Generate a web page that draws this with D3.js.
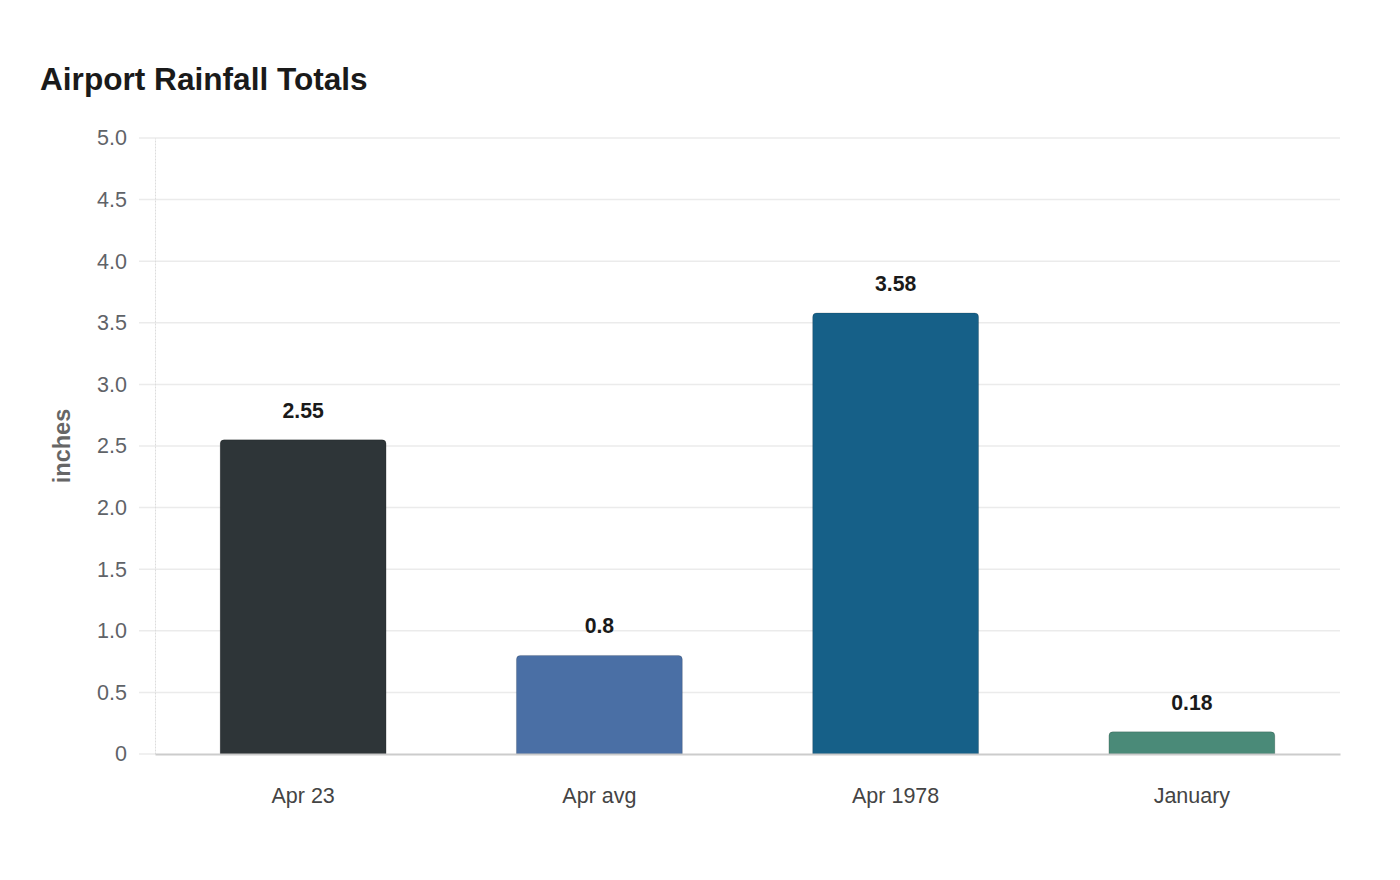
<!DOCTYPE html>
<html>
<head>
<meta charset="utf-8">
<script src="https://cdn.jsdelivr.net/npm/d3@7"></script>
<style>
  body { margin: 0; background: #fff; }
  svg { display: block; font-family: "Liberation Sans", Arial, sans-serif; }
</style>
</head>
<body>
<svg width="1400" height="880"></svg>
<script>
const categories = ["Apr 23", "Apr avg", "Apr 1978", "January"];
const rainfall = [2.55, 0.8, 3.58, 0.18];
const barColors = ["#2e3538", "#4a6fa5", "#166088", "#4a8a78"];
const yTicks = [0, 0.5, 1, 1.5, 2, 2.5, 3, 3.5, 4, 4.5, 5];

function main(){
  const svg = d3.select("svg");
  const left = 155, right = 1340, top = 138, bottom = 754;

  // scales
  const xScale = d3.scaleBand().domain(categories).range([left, right]).paddingInner(0.44).paddingOuter(0.22);
  const yScale = d3.scaleLinear().domain([0, 5]).range([bottom, top]);

  // title
  svg.append("text").attr("x", 40).attr("y", 90)
    .attr("font-size", 31.6).attr("font-weight", "bold").attr("fill", "#1a1a1a")
    .text("Airport Rainfall Totals");

  // gridlines
  svg.append("g").selectAll("line").data(yTicks.filter(d => d > 0)).enter().append("line")
    .attr("x1", left - 16).attr("x2", right)
    .attr("y1", d => yScale(d)).attr("y2", d => yScale(d))
    .attr("stroke", "#ebebeb").attr("stroke-width", 1.5);

  // y axis
  const yAxis = d3.axisLeft(yScale).tickValues(yTicks)
    .tickFormat(d => d === 0 ? "0" : d3.format(".1f")(d))
    .tickSize(0).tickPadding(28);
  const yG = svg.append("g").attr("transform", `translate(${left},0)`).call(yAxis);
  yG.select(".domain").attr("stroke", "#dcdcdc").attr("stroke-dasharray", "2,1");
  yG.selectAll("text").attr("font-size", 21.5).attr("fill", "#5f6368")
    .attr("font-family", "Liberation Sans, Arial, sans-serif");
  svg.append("line").attr("x1", left - 16).attr("x2", left).attr("y1", bottom).attr("y2", bottom)
    .attr("stroke", "#ebebeb").attr("stroke-width", 1.5);

  // axis title
  svg.append("text").attr("transform", `translate(70,${(top + bottom) / 2}) rotate(-90)`)
    .attr("text-anchor", "middle").attr("font-size", 23.5).attr("font-weight", "bold")
    .attr("fill", "#666").text("inches");

  // bars with rounded top corners
  const r = 4;
  const bw = xScale.bandwidth();
  svg.append("g").selectAll("path").data(rainfall).enter().append("path")
    .attr("d", (d, i) => {
      const x0 = xScale(categories[i]), x1 = x0 + bw;
      const y0 = yScale(d), y1 = yScale(0);
      return `M${x0},${y1} L${x0},${y0 + r} Q${x0},${y0} ${x0 + r},${y0} L${x1 - r},${y0} Q${x1},${y0} ${x1},${y0 + r} L${x1},${y1} Z`;
    })
    .attr("fill", (d, i) => barColors[i])
    .attr("stroke", "rgba(0,0,0,0.15)").attr("stroke-width", 1);

  // value labels
  svg.append("g").selectAll("text").data(rainfall).enter().append("text")
    .attr("x", (d, i) => xScale(categories[i]) + bw / 2)
    .attr("y", d => yScale(d) - 22)
    .attr("text-anchor", "middle").attr("font-size", 21.2).attr("font-weight", "bold")
    .attr("fill", "#1a1a1a").text(d => d);

  // x axis
  const xAxis = d3.axisBottom(xScale).tickSize(0).tickPadding(34);
  const xG = svg.append("g").attr("transform", `translate(0,${bottom})`).call(xAxis);
  xG.select(".domain").attr("stroke", "#cccccc").attr("stroke-width", 2);
  xG.selectAll("text").attr("font-size", 21.5).attr("fill", "#444")
    .attr("font-family", "Liberation Sans, Arial, sans-serif");
}

main();
</script>
</body>
</html>
